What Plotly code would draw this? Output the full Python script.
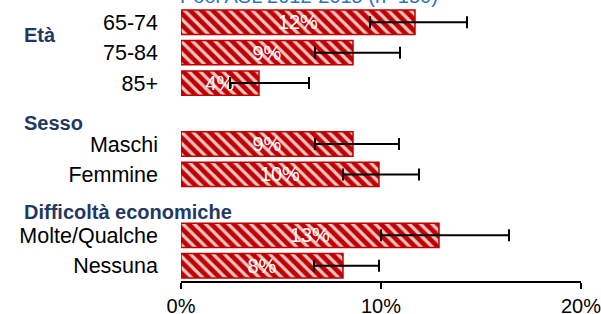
import plotly.graph_objects as go

# ---- data (percent) ----
group_titles = ["Età", "Sesso", "Difficoltà economiche"]
group_labels = [["65-74", "75-84", "85+"], ["Maschi", "Femmine"], ["Molte/Qualche", "Nessuna"]]
values = [11.7, 8.6, 3.9, 8.6, 9.9, 12.9, 8.1]
ci_low = [9.45, 6.7, 2.45, 6.7, 8.1, 10.0, 6.65]
ci_high = [14.3, 10.95, 6.4, 10.9, 11.9, 16.4, 9.9]
bar_text = ["12%", "9%", "4%", "9%", "10%", "13%", "8%"]
x_ticks = [0, 10, 20]
x_ticktext = ["0%", "10%", "20%"]
title_text = "Pool ASL 2012-2015 (n=150)"

# ---- layout of rows: first group has no header row, later groups get one ----
labels, pos, header_pos = [], [], []
slot = 0
for gi, grp in enumerate(group_labels):
    if gi > 0:
        header_pos.append(slot)
        slot += 1
    else:
        header_pos.append(None)
    for lab in grp:
        labels.append(lab)
        pos.append(slot)
        slot += 1
n_slots = slot

err_plus = [h - v for h, v in zip(ci_high, values)]
err_minus = [v - l for l, v in zip(ci_low, values)]

RED = "#C00000"
NAVY = "#1F3864"
FONT = "Liberation Sans"

fig = go.Figure(go.Bar(
    x=values, y=pos, orientation="h", width=0.8,
    marker=dict(color=RED, line=dict(color=RED, width=1.5),
                pattern=dict(shape="\\", fgcolor="#F3C4C4", bgcolor=RED,
                             size=8, solidity=0.4, fillmode="replace")),
    text=bar_text, textposition="inside", insidetextanchor="middle",
    constraintext="none",
    textfont=dict(color="white", size=20, family=FONT),
    error_x=dict(type="data", symmetric=False, array=err_plus, arrayminus=err_minus,
                 color="black", thickness=2, width=6),
    cliponaxis=False, hoverinfo="skip",
))

annotations = []
offsets = [0.43, 0.3, 0.22]
for t, hp, off in zip(group_titles, header_pos, offsets):
    yv = (0 if hp is None else hp) + off
    annotations.append(dict(text="<b>%s</b>" % t, xref="paper", yref="y", x=-0.3975, y=yv,
                            xanchor="left", yanchor="middle", showarrow=False,
                            font=dict(color=NAVY, size=20, family=FONT)))
annotations.append(dict(text=title_text, xref="paper", yref="paper", x=0.32, y=1,
                        xanchor="center", yanchor="bottom", yshift=-2, showarrow=False,
                        font=dict(color="#2E75B6", size=20, family=FONT)))

fig.update_layout(
    width=601, height=314,
    margin=dict(l=181, r=20, t=7, b=33),
    paper_bgcolor="white", plot_bgcolor="white",
    showlegend=False,
    annotations=annotations,
    font=dict(family=FONT, color="black"),
    xaxis=dict(range=[0, 20], tickvals=x_ticks, ticktext=x_ticktext, showgrid=False,
               zeroline=False, showline=True, linecolor="black", linewidth=1.5,
               ticks="outside", ticklen=6, tickwidth=1.5, tickcolor="black",
               ticklabeloverflow="allow", ticklabelstandoff=0, automargin=False,
               tickfont=dict(size=20, color="black")),
    yaxis=dict(range=[n_slots - 0.5, -0.5], tickvals=pos, ticktext=labels,
               showgrid=False, zeroline=False, showline=False, ticks="",
               automargin=False,
               ticklabelstandoff=22, tickfont=dict(size=21.5, color="black")),
)

fig.write_html("out.html", config={"displayModeBar": False},
               post_script="document.body.style.margin='0';document.body.style.overflow='hidden';")
